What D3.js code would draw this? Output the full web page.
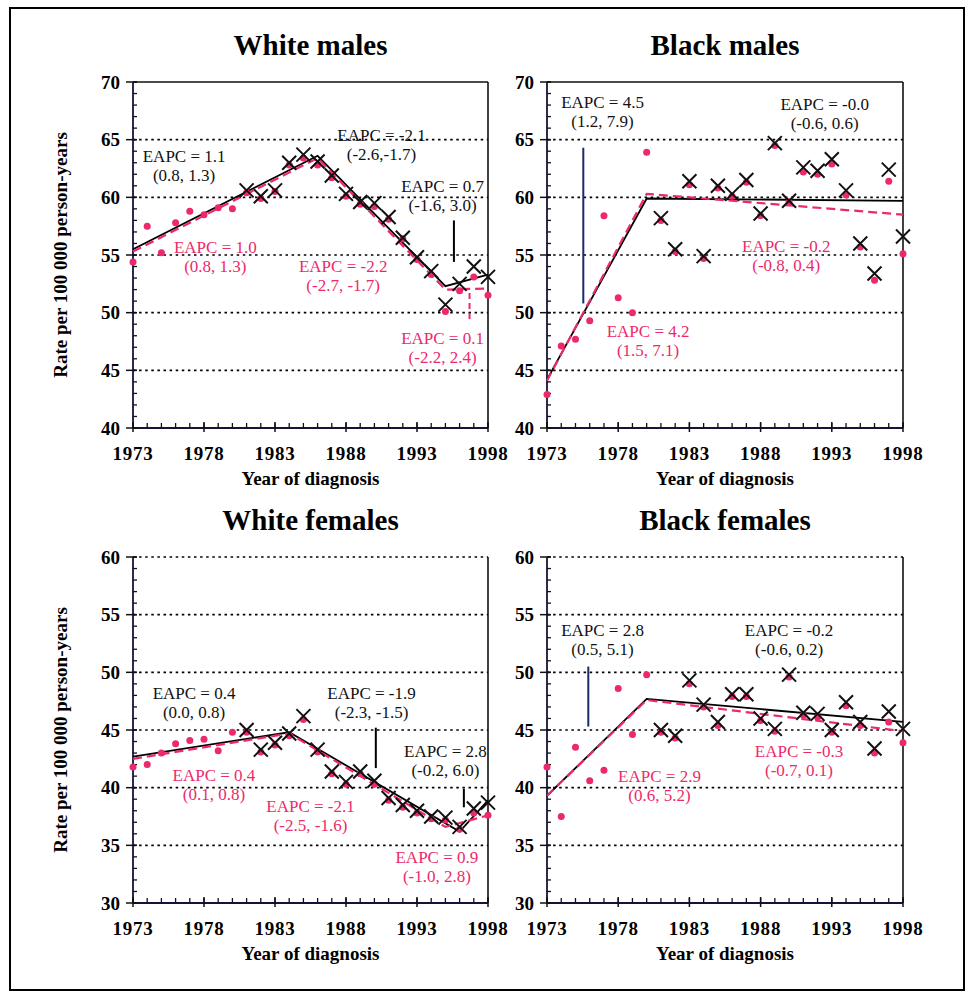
<!DOCTYPE html>
<html><head><meta charset="utf-8">
<script src="https://cdn.jsdelivr.net/npm/d3@7"></script>
<style>body{margin:0;background:#fff} text{font-family:"Liberation Serif","Times New Roman",serif}</style>
</head><body><svg id="c" width="973" height="1000"></svg>
<script>
// ---------- DATA ----------
const years=[1973,1974,1975,1976,1977,1978,1979,1980,1981,1982,1983,1984,1985,1986,1987,1988,1989,1990,1991,1992,1993,1994,1995,1996,1997,1998];
const crossYears=[1981,1982,1983,1984,1985,1986,1987,1988,1989,1990,1991,1992,1993,1994,1995,1996,1997,1998];
const xTickLabels=[1973,1978,1983,1988,1993,1998];
const maleTicks=[40,45,50,55,60,65,70];
const femaleTicks=[30,35,40,45,50,55,60];

// White males
const wmDots=[54.4,57.5,55.2,57.8,58.8,58.5,59.1,59.0,60.4,59.9,60.5,62.8,63.4,62.8,61.7,60.1,59.4,59.2,58.1,56.4,54.6,53.3,50.1,51.9,53.1,51.5];
const wmCrosses=[60.6,60.1,60.6,63.0,63.7,63.1,61.9,60.3,59.6,59.5,58.3,56.5,54.8,53.6,50.7,52.5,54.0,53.1];
const wmFitBlackYears=[1973,1986,1995,1998], wmFitBlack=[55.5,63.6,52.3,53.3];
const wmFitPinkYears=[1973,1986,1995,1998],  wmFitPink=[55.3,63.4,52.0,52.1];

// Black males
const bmDots=[42.9,47.1,47.7,49.3,58.4,51.3,50.0,63.9,58.0,55.3,61.1,54.7,60.8,60.1,61.3,58.4,64.5,59.6,62.2,62.0,62.9,60.2,55.7,52.8,61.4,55.1];
const bmCrosses=[58.2,55.5,61.4,54.9,61.0,60.3,61.5,58.6,64.7,59.7,62.6,62.3,63.3,60.6,56.0,53.4,62.4,56.6];
const bmFitBlackYears=[1973,1980,1998], bmFitBlack=[44.2,59.9,59.7];
const bmFitPinkYears=[1973,1980,1998],  bmFitPink=[44.1,60.3,58.5];

// White females
const wfDots=[41.8,42.0,43.0,43.8,44.1,44.2,43.2,44.8,44.8,43.1,43.7,44.5,45.9,43.1,41.2,40.3,41.2,40.3,38.9,38.3,37.8,37.3,37.2,36.4,37.8,37.6];
const wfCrosses=[45.0,43.3,43.9,44.7,46.2,43.3,41.4,40.5,41.4,40.6,39.1,38.5,38.0,37.5,37.4,36.6,38.2,38.7];
const wfFitBlackYears=[1973,1984,1996,1998], wfFitBlack=[42.7,44.8,36.2,38.9];
const wfFitPinkYears=[1973,1984,1995,1998],  wfFitPink=[42.5,44.7,36.6,37.6];

// Black females
const bfDots=[41.8,37.5,43.5,40.6,41.5,48.6,44.6,49.8,44.8,44.3,49.0,47.0,45.4,47.9,47.9,45.8,44.9,49.6,46.3,46.1,44.8,47.1,45.4,43.0,45.7,43.9];
const bfCrosses=[45.0,44.5,49.3,47.2,45.7,48.1,48.1,46.0,45.1,49.8,46.5,46.4,45.0,47.4,45.7,43.4,46.6,45.1];
const bfFitBlackYears=[1973,1980,1998], bfFitBlack=[39.3,47.7,45.7];
const bfFitPinkYears=[1973,1980,1998],  bfFitPink=[39.3,47.6,44.9];

// Annotations: [line1, line2, year, value, colour]
const wmNotes=[["EAPC = 1.1","(0.8, 1.3)",1976.6,63.06,"k"],["EAPC = 1.0","(0.8, 1.3)",1978.8,55.17,"p"],
  ["EAPC = -2.1","(-2.6,-1.7)",1990.5,64.88,"k"],["EAPC = 0.7","(-1.6, 3.0)",1994.8,60.46,"k"],
  ["EAPC = -2.2","(-2.7, -1.7)",1987.8,53.52,"p"],["EAPC = 0.1","(-2.2, 2.4)",1994.8,47.28,"p"]];
const bmNotes=[["EAPC = 4.5","(1.2, 7.9)",1976.9,67.75,"k"],["EAPC = 4.2","(1.5, 7.1)",1980.1,47.88,"p"],
  ["EAPC = -0.0","(-0.6, 0.6)",1992.5,67.57,"k"],["EAPC = -0.2","(-0.8, 0.4)",1989.8,55.26,"p"]];
const wfNotes=[["EAPC = 0.4","(0.0, 0.8)",1977.3,47.68,"k"],["EAPC = 0.4","(0.1, 0.8)",1978.7,40.57,"p"],
  ["EAPC = -2.1","(-2.5, -1.6)",1985.5,37.88,"p"],["EAPC = -1.9","(-2.3, -1.5)",1989.8,47.68,"k"],
  ["EAPC = 2.8","(-0.2, 6.0)",1995.0,42.65,"k"],["EAPC = 0.9","(-1.0, 2.8)",1994.4,33.46,"p"]];
const bfNotes=[["EAPC = 2.8","(0.5, 5.1)",1976.9,53.15,"k"],["EAPC = 2.9","(0.6, 5.2)",1980.9,40.49,"p"],
  ["EAPC = -0.2","(-0.6, 0.2)",1990.0,53.15,"k"],["EAPC = -0.3","(-0.7, 0.1)",1990.7,42.65,"p"]];
// Leader lines: [year, v1, v2, colour]
const wmLeaders=[[1995.6,58.0,54.4,"k"],[1996.7,51.7,49.1,"pd"]];
const bmLeaders=[[1975.55,64.3,50.8,"n"]];
const wfLeaders=[[1990.1,45.2,41.7,"k"],[1996.3,39.9,38.3,"k"]];
const bfLeaders=[[1975.9,50.5,45.3,"n"]];

// ---------- DRAW ----------
const PINK="#ec2a6b", INK="#111";
const svg=d3.select("#c");
svg.append("rect").attr("x",10).attr("y",8).attr("width",954).attr("height",982)
  .attr("fill","none").attr("stroke","#000").attr("stroke-width",2);

function panel(c){
  const x=d3.scaleLinear().domain([1973,1998]).range([c.l,c.r]);
  const y=d3.scaleLinear().domain([c.ticks[0],c.ticks[c.ticks.length-1]]).range([c.b,c.t]);
  const g=svg.append("g");
  const fs="19px";
  // title
  g.append("text").attr("x",(c.l+c.r)/2).attr("y",c.t-27).attr("text-anchor","middle")
    .attr("font-size","29px").attr("font-weight","bold").text(c.title);
  // gridlines
  const grid=c.ticks.slice(1,c.solidTop?-1:undefined);
  g.selectAll(".gr").data(grid).join("line")
    .attr("x1",c.l).attr("x2",c.r).attr("y1",d=>y(d)).attr("y2",d=>y(d))
    .attr("stroke","#000").attr("stroke-width",1.6).attr("stroke-dasharray","2.5,3.6");
  if(c.solidTop) g.append("line").attr("x1",c.l).attr("x2",c.r).attr("y1",c.t).attr("y2",c.t).attr("stroke",INK).attr("stroke-width",1.6);
  g.append("line").attr("x1",c.r).attr("x2",c.r).attr("y1",c.t).attr("y2",c.b).attr("stroke",INK).attr("stroke-width",1.6);
  // axes
  g.append("line").attr("x1",c.l).attr("x2",c.l).attr("y1",c.t).attr("y2",c.b).attr("stroke","#14143a").attr("stroke-width",1.8);
  g.append("line").attr("x1",c.l).attr("x2",c.r).attr("y1",c.b).attr("y2",c.b).attr("stroke","#14143a").attr("stroke-width",1.8);
  const yMinor=d3.range(c.ticks[0],c.ticks[c.ticks.length-1]+0.01,1);
  g.selectAll(".ym").data(yMinor).join("line").attr("x1",c.l).attr("x2",c.l+4)
    .attr("y1",d=>y(d)).attr("y2",d=>y(d)).attr("stroke",INK).attr("stroke-width",1.3);
  g.selectAll(".yM").data(c.ticks).join("line").attr("x1",c.l-7).attr("x2",c.l+4)
    .attr("y1",d=>y(d)).attr("y2",d=>y(d)).attr("stroke",INK).attr("stroke-width",1.5);
  g.selectAll(".yl").data(c.ticks).join("text").attr("x",c.l-13).attr("y",d=>y(d)).attr("dy","0.35em")
    .attr("text-anchor","end").attr("font-size",fs).attr("font-weight","bold").text(d=>d);
  g.selectAll(".xm").data(years).join("line").attr("x1",d=>x(d)).attr("x2",d=>x(d))
    .attr("y1",c.b).attr("y2",c.b-5).attr("stroke",INK).attr("stroke-width",1.3);
  g.selectAll(".xM").data(xTickLabels).join("line").attr("x1",d=>x(d)).attr("x2",d=>x(d))
    .attr("y1",c.b-6).attr("y2",c.b+4).attr("stroke",INK).attr("stroke-width",1.5);
  g.selectAll(".xl").data(xTickLabels).join("text").attr("x",d=>x(d)).attr("y",c.b+32)
    .attr("text-anchor","middle").attr("font-size",fs).attr("font-weight","bold").attr("letter-spacing","0.8px").text(d=>d);
  g.append("text").attr("x",(c.l+c.r)/2).attr("y",c.b+57).attr("text-anchor","middle")
    .attr("font-size",fs).attr("font-weight","bold").text("Year of diagnosis");
  if(c.ylabel){
    g.append("text").attr("transform",`translate(67,${(c.t+c.b)/2}) rotate(-90)`).attr("text-anchor","middle")
      .attr("font-size",fs).attr("font-weight","bold").text("Rate per 100 000 person-years");
  }
  // fitted lines
  const line=d3.line().x(d=>x(d[0])).y(d=>y(d[1]));
  g.append("path").attr("d",line(c.fbY.map((d,i)=>[d,c.fb[i]]))).attr("fill","none").attr("stroke","#000").attr("stroke-width",1.8);
  g.append("path").attr("d",line(c.fpY.map((d,i)=>[d,c.fp[i]]))).attr("fill","none").attr("stroke",PINK).attr("stroke-width",2.2).attr("stroke-dasharray","9,5");
  // dots
  g.selectAll(".dt").data(years.map((d,i)=>[d,c.dots[i]])).join("circle")
    .attr("cx",d=>x(d[0])).attr("cy",d=>y(d[1])).attr("r",3.5).attr("fill",PINK);
  // crosses
  const s=7;
  g.selectAll(".cx").data(crossYears.map((d,i)=>[d,c.crosses[i]])).join("path")
    .attr("d",d=>{const px=x(d[0]),py=y(d[1]);return `M${px-s},${py-s}L${px+s},${py+s}M${px-s},${py+s}L${px+s},${py-s}`;})
    .attr("stroke",INK).attr("stroke-width",2).attr("fill","none");
  // leaders
  c.leaders.forEach(L=>{
    const col=L[3]==="n"?"#1c2a66":(L[3]==="pd"?PINK:"#000");
    const ln=g.append("line").attr("x1",x(L[0])).attr("x2",x(L[0])).attr("y1",y(L[1])).attr("y2",y(L[2]))
      .attr("stroke",col).attr("stroke-width",2);
    if(L[3]==="pd") ln.attr("stroke-dasharray","6,4");
  });
  // notes
  c.notes.forEach(n=>{
    const col=n[4]==="p"?PINK:"#111";
    const t=g.append("text").attr("text-anchor","middle").attr("font-size","17px").attr("fill",col);
    t.append("tspan").attr("x",x(n[2])).attr("y",y(n[3])).text(n[0]);
    t.append("tspan").attr("x",x(n[2])).attr("y",y(n[3])+19).text(n[1]);
  });
}

panel({title:"White males",l:133,r:488,t:82,b:428,ticks:maleTicks,solidTop:true,ylabel:true,
  dots:wmDots,crosses:wmCrosses,fbY:wmFitBlackYears,fb:wmFitBlack,fpY:wmFitPinkYears,fp:wmFitPink,notes:wmNotes,leaders:wmLeaders});
panel({title:"Black males",l:547,r:903,t:82,b:428,ticks:maleTicks,solidTop:true,ylabel:false,
  dots:bmDots,crosses:bmCrosses,fbY:bmFitBlackYears,fb:bmFitBlack,fpY:bmFitPinkYears,fp:bmFitPink,notes:bmNotes,leaders:bmLeaders});
panel({title:"White females",l:133,r:488,t:557,b:903,ticks:femaleTicks,solidTop:false,ylabel:true,
  dots:wfDots,crosses:wfCrosses,fbY:wfFitBlackYears,fb:wfFitBlack,fpY:wfFitPinkYears,fp:wfFitPink,notes:wfNotes,leaders:wfLeaders});
panel({title:"Black females",l:547,r:903,t:557,b:903,ticks:femaleTicks,solidTop:false,ylabel:false,
  dots:bfDots,crosses:bfCrosses,fbY:bfFitBlackYears,fb:bfFitBlack,fpY:bfFitPinkYears,fp:bfFitPink,notes:bfNotes,leaders:bfLeaders});
</script></body></html>
